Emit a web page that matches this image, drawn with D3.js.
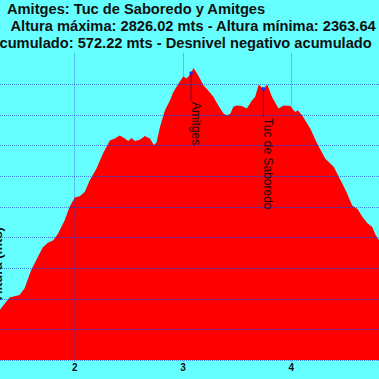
<!DOCTYPE html>
<html><head><meta charset="utf-8">
<script src="https://cdn.jsdelivr.net/npm/d3@7"></script>
<style>html,body{margin:0;padding:0;background:#66ffff;overflow:hidden} svg{display:block}</style>
</head><body>
<svg id="chart" width="379" height="379"></svg>
<script>
// ---- data (km, altitude in m) ----
const distKm = [1.10, 1.20, 1.25, 1.310, 1.372, 1.403, 1.449, 1.495, 1.542, 1.604, 1.650, 1.711, 1.757, 1.804, 1.850, 1.912, 1.958, 2.005, 2.051, 2.097, 2.144, 2.206, 2.267, 2.329, 2.375, 2.421, 2.468, 2.498, 2.530, 2.560, 2.606, 2.653, 2.699, 2.736, 2.761, 2.792, 2.838, 2.884, 2.915, 2.961, 3.007, 3.039, 3.079, 3.102, 3.146, 3.193, 3.239, 3.285, 3.331, 3.378, 3.409, 3.440, 3.470, 3.502, 3.548, 3.594, 3.641, 3.671, 3.704, 3.745, 3.782, 3.826, 3.887, 3.933, 3.995, 4.042, 4.063, 4.104, 4.181, 4.243, 4.319, 4.396, 4.474, 4.514, 4.567, 4.616, 4.662, 4.708, 4.752, 4.782, 4.819, 4.921, 5.010];
const altitude = [2364, 2400, 2415, 2431, 2445, 2452, 2454, 2456, 2467, 2497, 2513, 2534, 2541, 2545, 2556, 2578, 2600, 2615, 2617, 2624, 2643, 2662, 2687, 2708, 2711, 2716, 2711, 2707, 2712, 2707, 2709, 2715, 2711, 2700, 2705, 2730, 2757, 2773, 2787, 2800, 2812, 2809, 2818, 2826, 2814, 2798, 2789, 2779, 2765, 2752, 2749, 2751, 2763, 2765, 2764, 2760, 2773, 2779, 2799, 2792, 2799, 2779, 2760, 2765, 2764, 2754, 2757, 2749, 2727, 2703, 2678, 2665, 2638, 2624, 2602, 2596, 2583, 2573, 2567, 2554, 2544, 2513, 2488];
const xTickValues = [2, 3, 4];
const xTickLabels = ["2", "3", "4"];
const yGridValues = [2350, 2400, 2450, 2500, 2550, 2600, 2650, 2700, 2750, 2800];
const peakNames = ["Amitges", "Tuc de Saboredo"];
const peakKm = [3.079, 3.746];
const peakAlt = [2818, 2792];
const titleLines = [
  "Amitges: Tuc de Saboredo y Amitges",
  " Altura máxima: 2826.02 mts - Altura mínima: 2363.64",
  "cumulado: 572.22 mts - Desnivel negativo acumulado"
];
const yAxisTitle = "Altura (mts)";

// ---- layout ----
const svg = d3.select("#chart");
const x = d3.scaleLinear().domain([2, 4]).range([74.2, 290.8]);
const y = d3.scaleLinear().domain([2350, 2850]).range([360, 53.3]);
const font = "Arial, 'Liberation Sans', sans-serif";

svg.append("rect").attr("width", 379).attr("height", 379).attr("fill", "#66ffff");

const pts = distKm.map((k, i) => ({ km: k, alt: altitude[i] }));

// area
svg.append("path")
  .datum(pts)
  .attr("fill", "#ff0000")
  .attr("d", d3.area().x(d => x(d.km)).y0(y(2350)).y1(d => y(d.alt)));

// grid lines
const grid = svg.append("g").attr("stroke", "#2438d0").attr("stroke-opacity", 0.6)
  .attr("stroke-width", 1).attr("stroke-dasharray", "1,1");
grid.selectAll("line.h").data(yGridValues).join("line")
  .attr("x1", 0).attr("x2", 379)
  .attr("y1", d => Math.round(y(d)) + 0.5).attr("y2", d => Math.round(y(d)) + 0.5);
grid.selectAll("line.v").data(xTickValues).join("line")
  .attr("y1", y(2850)).attr("y2", 362)
  .attr("x1", d => Math.round(x(d)) + 0.5).attr("x2", d => Math.round(x(d)) + 0.5);

// x axis labels
const xAxis = d3.axisBottom(x).tickValues(xTickValues).tickFormat((d, i) => xTickLabels[i]).tickSize(0).tickPadding(4);
const ax = svg.append("g").attr("transform", `translate(0,${y(2350)})`).call(xAxis);
ax.select(".domain").remove();
ax.selectAll("text").attr("font-family", font).attr("font-size", 10).attr("font-weight", "bold").attr("fill", "#111");

// peak markers and labels
peakNames.forEach((name, i) => {
  const px = x(peakKm[i]), py = y(peakAlt[i]);
  svg.append("line").attr("x1", px).attr("x2", px).attr("y1", py).attr("y2", py + 28)
    .attr("stroke", "#7a0030").attr("stroke-width", 1);
  svg.append("circle").attr("cx", px).attr("cy", py).attr("r", 1.8).attr("fill", "#1a2aff");
  svg.append("text")
    .attr("transform", `translate(${px + 0.5},${py + 29}) rotate(90)`)
    .attr("font-family", font).attr("font-size", 12).attr("fill", "#1a0a0a")
    .text(name);
});

// titles
const tX = [7, 7, -0.5];
const tY = [13.5, 30.5, 47.5];
titleLines.forEach((t, i) => {
  svg.append("text").attr("x", tX[i]).attr("y", tY[i])
    .attr("font-family", font).attr("font-size", 14.67).attr("font-weight", "bold")
    .attr("fill", "#111").attr("xml:space", "preserve").style("white-space", "pre")
    .text(t);
});

// y axis title (mostly outside the crop, as in the reference)
svg.append("text")
  .attr("transform", `translate(2,300) rotate(-90)`)
  .attr("font-family", font).attr("font-size", 13).attr("font-weight", "bold")
  .attr("fill", "#111")
  .text(yAxisTitle);
</script>
</body></html>
